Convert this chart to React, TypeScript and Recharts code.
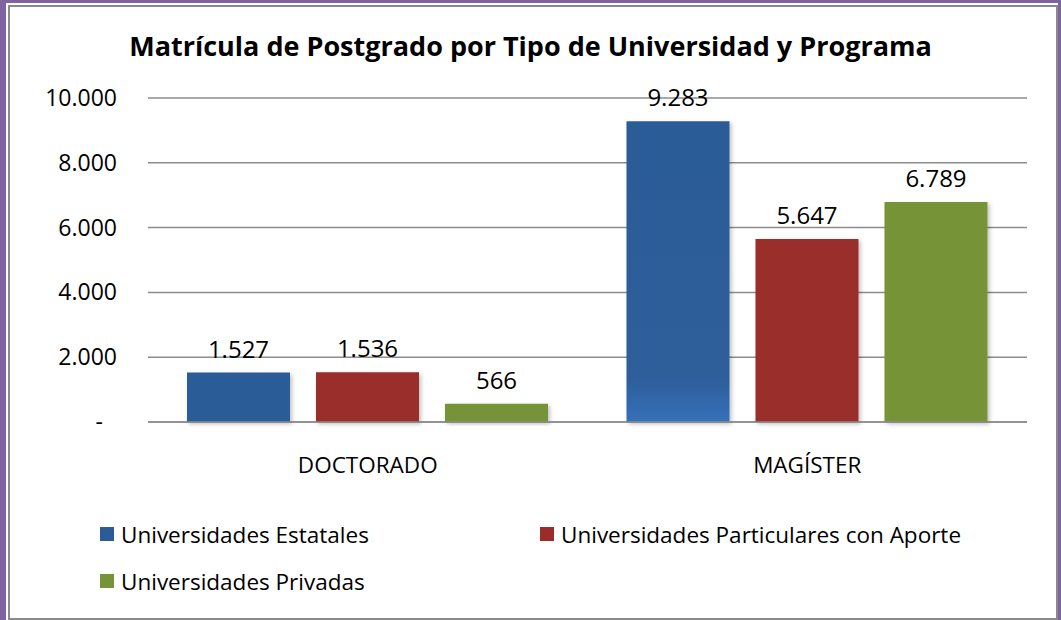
import React from 'react';
import {
  BarChart,
  Bar,
  XAxis,
  YAxis,
  CartesianGrid,
  Legend,
  LabelList,
  Cell,
} from 'recharts';

const TITLE = 'Matrícula de Postgrado por Tipo de Universidad y Programa';
const CATEGORIES = ['DOCTORADO', 'MAGÍSTER'];
const ESTATALES = [1527, 9283];
const PARTICULARES = [1536, 5647];
const PRIVADAS = [566, 6789];
const Y_TICKS = [0, 2000, 4000, 6000, 8000, 10000];

const SERIES = [
  { key: 'estatales', name: 'Universidades Estatales', color: '#2C5C97', values: ESTATALES },
  { key: 'particulares', name: 'Universidades Particulares con Aporte', color: '#9A2D2C', values: PARTICULARES },
  { key: 'privadas', name: 'Universidades Privadas', color: '#779337', values: PRIVADAS },
];

const FONT = '"Open Sans", Lato, sans-serif';

const chartData = CATEGORIES.map((cat, i) => {
  const row: Record<string, string | number> = { cat };
  SERIES.forEach(s => {
    row[s.key] = s.values[i];
  });
  return row;
});

const fmt = (v: number) => {
  if (v === 0) return '-';
  return String(Math.round(v)).replace(/\B(?=(\d{3})+(?!\d))/g, '.');
};

const YTick = (props: any) => {
  const { x, y, payload } = props;
  const isZero = payload.value === 0;
  return (
    <text
      x={isZero ? x - 14 : x}
      y={y}
      dy={8}
      textAnchor="end"
      fontSize={23}
      fontFamily={FONT}
      fill="#000"
    >
      {fmt(payload.value)}
    </text>
  );
};

const LegendContent = () => (
  <div
    style={{
      display: 'grid',
      gridTemplateColumns: '440px 440px',
      rowGap: 21,
      paddingLeft: 100,
      fontFamily: FONT,
      fontSize: 22.5,
      color: '#000',
    }}
  >
    {SERIES.map(s => (
      <div key={s.key} style={{ display: 'flex', alignItems: 'center', height: 26 }}>
        <span
          style={{ width: 14, height: 14, background: s.color, display: 'inline-block', marginRight: 7, flexShrink: 0 }}
        />
        <span style={{ whiteSpace: 'nowrap' }}>{s.name}</span>
      </div>
    ))}
  </div>
);

export default function App() {
  return (
    <div style={{ position: 'absolute', left: 0, top: 0, width: 1061, height: 620, background: '#fff' }}>
      <style>{`body{margin:0}`}</style>
      {/* frame */}
      <div
        style={{
          position: 'absolute',
          left: 0,
          top: 0,
          width: 1061,
          height: 620,
          boxSizing: 'border-box',
          borderLeft: '6px solid #8064A2',
          borderTop: '3px solid #8064A2',
          borderRight: '3px solid #8064A2',
        }}
      />
      <div
        style={{
          position: 'absolute',
          left: 8,
          top: 5,
          width: 1050,
          height: 615,
          boxSizing: 'border-box',
          border: '2px solid #8a8a8a',
        }}
      />
      <div
        style={{
          position: 'absolute',
          left: 0,
          top: 27,
          width: 1061,
          textAlign: 'center',
          fontFamily: FONT,
          fontWeight: 700,
          fontSize: 27,
          color: '#000',
          whiteSpace: 'nowrap',
        }}
      >
        {TITLE}
      </div>
      <BarChart
        width={1061}
        height={620}
        data={chartData}
        margin={{ top: 98, right: 34, bottom: 168, left: 48 }}
        barSize={103}
        barGap={26}
        style={{ position: 'absolute', left: 0, top: 0 }}
      >
        <defs>
          <linearGradient id="blueGrad" x1="0" y1="0" x2="0" y2="1">
            <stop offset="0%" stopColor="#2C5C97" />
            <stop offset="85%" stopColor="#2D5E9A" />
            <stop offset="100%" stopColor="#3670B8" />
          </linearGradient>
          <filter id="shadow" x="-10%" y="-10%" width="130%" height="130%">
            <feDropShadow dx="2" dy="2" stdDeviation="2" floodColor="#000" floodOpacity="0.25" />
          </filter>
        </defs>
        <CartesianGrid vertical={false} stroke="#8c8c8c" strokeWidth={1.5} />
        <XAxis
          dataKey="cat"
          height={30}
          axisLine={{ stroke: '#8c8c8c', strokeWidth: 1.5 }}
          tickLine={false}
          tickMargin={29}
          tick={{ fontSize: 22.5, fontFamily: FONT, fill: '#000' }}
        />
        <YAxis
          domain={[0, 10000]}
          ticks={Y_TICKS}
          width={100}
          axisLine={false}
          tickLine={false}
          tickMargin={25}
          tick={<YTick />}
          interval={0}
        />
        <Legend
          layout="horizontal"
          verticalAlign="middle"
          align="center"
          content={<LegendContent />}
          wrapperStyle={{ left: 0, top: 521, width: 1061 }}
        />
        {SERIES.map(s => (
          <Bar
            key={s.key}
            dataKey={s.key}
            name={s.name}
            fill={s.color}
            isAnimationActive={false}
            filter="url(#shadow)"
          >
            {s.key === 'estatales' &&
              chartData.map((d, i) => (
                <Cell key={i} fill={i === 1 ? 'url(#blueGrad)' : s.color} />
              ))}
            <LabelList
              dataKey={s.key}
              position="top"
              offset={15}
              formatter={(v: any) => fmt(Number(v))}
              style={{ fontSize: 24, fontFamily: FONT, fill: '#000' }}
            />
          </Bar>
        ))}
      </BarChart>
    </div>
  );
}
